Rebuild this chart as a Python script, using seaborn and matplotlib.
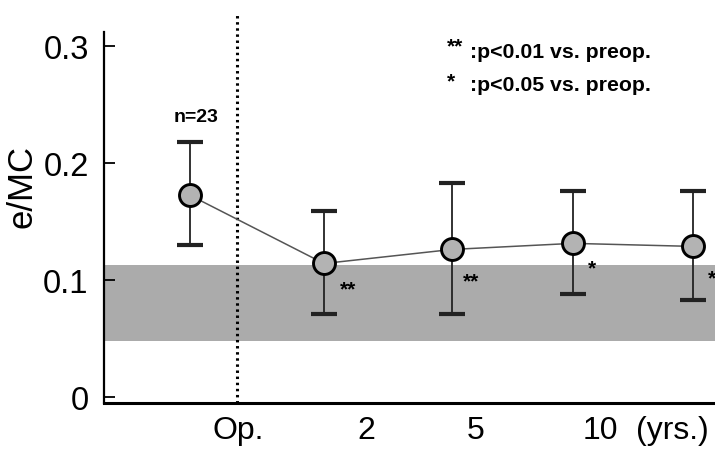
import numpy as np
import pandas as pd
import seaborn as sns
import matplotlib
matplotlib.use("Agg")
import matplotlib.pyplot as plt

# ---- data ----
periods = ["preop", "2", "5", "7", "10"]
pos = [0.86, 2.20, 3.48, 4.69, 5.89]          # horizontal placement of each period
mean_vals = [0.1725, 0.1142, 0.1262, 0.1314, 0.1288]
upper_vals = [0.218, 0.1588, 0.1828, 0.176, 0.176]
lower_vals = [0.1297, 0.0714, 0.0711, 0.0885, 0.0828]
sig_marks = ["", "**", "**", "*", "*"]
normal_range = [0.0482, 0.1128]
x_tick_pos = [1.34, 2.62, 3.72, 4.96, 5.68]
x_tick_labels = ["Op.", "2", "5", "10", "(yrs.)"]
y_ticks = [0, 0.1, 0.2, 0.3]
y_tick_labels = ["0", "0.1", "0.2", "0.3"]

df = pd.DataFrame({"pos": pos, "mean": mean_vals,
                   "upper": upper_vals, "lower": lower_vals})

sns.set_style("ticks")
plt.rcParams["font.family"] = ["Liberation Sans", "DejaVu Sans"]
plt.rcParams["text.color"] = "black"
plt.rcParams["xtick.color"] = "black"
plt.rcParams["ytick.color"] = "black"
plt.rcParams["axes.edgecolor"] = "black"

fig = plt.figure(figsize=(7.15, 4.52), dpi=100)
ax = fig.add_axes([104/715, 1-404/452, 1-104/715, (404-33)/452])

ax.set_xlim(0, 6.11)
ax.set_ylim(-0.005, 0.312)

# normal range band
ax.axhspan(normal_range[0], normal_range[1], color="#ababab", lw=0, zorder=0)

# operation line
ax.axvline(x_tick_pos[0] - 0.01, ymin=0, ymax=1.054, color="black", lw=2.2,
           linestyle=(0, (0.8, 1.2)), clip_on=False, zorder=1)

# error bars
yerr = np.array([df["mean"] - df["lower"], df["upper"] - df["mean"]])
ax.errorbar(df["pos"], df["mean"], yerr=yerr, fmt="none", ecolor="#222222",
            elinewidth=1.3, capsize=9.5, capthick=3.0, zorder=2)

# connecting line and markers
sns.lineplot(data=df, x="pos", y="mean", ax=ax, color="#555555", lw=1.1,
             zorder=3, legend=False)
sns.scatterplot(data=df, x="pos", y="mean", ax=ax, s=250, color="#b3b3b3",
                edgecolor="black", linewidth=2.1, zorder=4, legend=False)

# significance marks
sig_offsets = [(0, 0), (0.24, -0.022), (0.19, -0.027), (0.19, -0.021), (0.19, -0.027)]
for p, mv, m, (dx, dy) in zip(pos, mean_vals, sig_marks, sig_offsets):
    if m:
        ax.text(p + dx, mv + dy, m, fontsize=15, fontweight="bold",
                ha="center", va="center", clip_on=False)

# n label
ax.text(pos[0] + 0.06, 0.240, "n=23", fontsize=14, fontweight="bold",
        ha="center", va="center")

# significance legend
ax.text(3.43, 0.300, "**", fontsize=15, fontweight="bold", ha="left", va="center")
ax.text(3.66, 0.295, ":p<0.01 vs. preop.", fontsize=15.3, fontweight="bold",
        ha="left", va="center")
ax.text(3.43, 0.270, "*", fontsize=15, fontweight="bold", ha="left", va="center")
ax.text(3.66, 0.267, ":p<0.05 vs. preop.", fontsize=15.3, fontweight="bold",
        ha="left", va="center")

# axes styling
ax.set_xticks(x_tick_pos)
ax.set_xticklabels(x_tick_labels, fontsize=23)
ax.tick_params(axis="x", length=0, pad=9)
ax.set_yticks(y_ticks)
ax.set_yticklabels(y_tick_labels, fontsize=23.5)
ax.tick_params(axis="y", direction="in", length=8, width=1.3, pad=11)
ax.set_xlabel("")
ax.set_ylabel("")
sns.despine(ax=ax, right=True, top=True)
ax.spines["left"].set_linewidth(1.6)
ax.spines["bottom"].set_linewidth(2.2)

fig.text(22/715, 1-187/452, "e/MC", fontsize=25, rotation=90,
         ha="center", va="center")

fig.savefig("out.png", dpi=100)
